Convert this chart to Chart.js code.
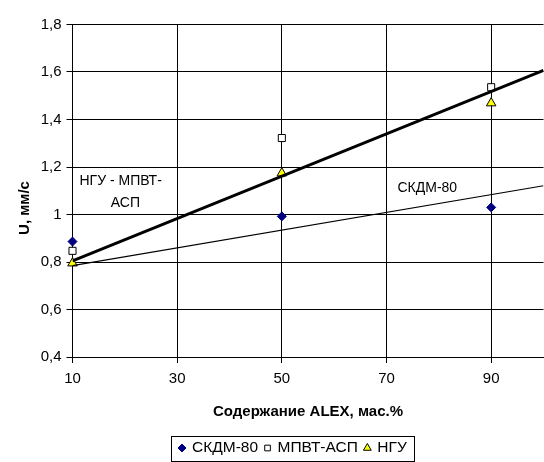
<!DOCTYPE html>
<html>
<head>
<meta charset="utf-8">
<script src="https://cdn.jsdelivr.net/npm/chart.js@4"></script>
<style>
    html, body { margin: 0; padding: 0; background: #fff; overflow: hidden; }
    #wrap { width: 550px; height: 462px; }
</style>
</head>
<body>
<div id="wrap"><canvas id="grafico" width="550" height="462"></canvas></div>
<script>
// --- Dados ---
const xValues = [10, 50, 90];
const skdm80 = [0.886, 0.992, 1.03];
const mpvtAsp = [0.847, 1.322, 1.536];
const ngu = [0.795, 1.174, 1.469];

// linhas de tendência (desenhadas à mão no original)
const trendX = [10, 100];
const trendNguMpvt = [0.805, 1.607];
const trendSkdm = [0.785, 1.121];

const xTicks = [10, 30, 50, 70, 90];
const yTicks = [0.4, 0.6, 0.8, 1.0, 1.2, 1.4, 1.6, 1.8];

const seriesNames = ["СКДМ-80", "МПВТ-АСП", "НГУ"];
const xTitle = "Содержание ALEX, мас.%";
const yTitle = "U, мм/с";

// rótulos dentro do gráfico (posição em unidades dos eixos)
const innerLabels = [
    { text: "НГУ - МПВТ-", x: 19.2, y: 1.142 },
    { text: "АСП", x: 20.1, y: 1.049 },
    { text: "СКДМ-80", x: 77.8, y: 1.112 }
];

const FONT = "'Liberation Sans', Arial, sans-serif";

function pts(xs, ys) {
    return xs.map((x, i) => ({ x: x, y: ys[i] }));
}

// --- Plugin: textos e legenda ---
const extrasPlugin = {
    id: "extras",
    afterDraw(chart) {
        const ctx = chart.ctx;
        const sx = chart.scales.x, sy = chart.scales.y;
        ctx.save();

        // rótulos internos
        ctx.fillStyle = "#000";
        ctx.font = "14px " + FONT;
        ctx.textAlign = "center";
        ctx.textBaseline = "middle";
        innerLabels.forEach(l => {
            ctx.fillText(l.text, sx.getPixelForValue(l.x), sy.getPixelForValue(l.y));
        });

        // título do eixo Y
        ctx.save();
        ctx.translate(25, 208);
        ctx.rotate(-Math.PI / 2);
        ctx.font = "bold 15px " + FONT;
        ctx.fillText(yTitle, 0, 0);
        ctx.restore();

        // legenda
        const boxLeft = 171, boxTop = 436, boxH = 25, cy = 448;
        ctx.font = "15.5px " + FONT;
        ctx.textAlign = "left";
        let x = boxLeft + 11;
        let textEnd = x;
        chart.data.datasets.forEach(ds => {
            if (ds.hideInLegend) return;
            ctx.fillStyle = ds.backgroundColor;
            ctx.strokeStyle = ds.borderColor;
            ctx.lineWidth = 1;
            Chart.helpers.drawPoint(ctx, {
                pointStyle: ds.pointStyle,
                radius: ds.legendRadius,
                borderWidth: 1,
                rotation: 0
            }, x, cy);
            ctx.fillStyle = "#000";
            ctx.fillText(ds.label, x + 10, cy);
            textEnd = x + 10 + ctx.measureText(ds.label).width;
            x = textEnd + 9.5;
        });
        ctx.strokeStyle = "#000";
        ctx.lineWidth = 1;
        ctx.strokeRect(boxLeft + 0.5, boxTop + 0.5, Math.round(textEnd + 7 - boxLeft), boxH);

        ctx.restore();
    }
};

new Chart(document.getElementById("grafico"), {
    type: "line",
    data: {
        datasets: [
            {
                label: seriesNames[0],
                data: pts(xValues, skdm80),
                showLine: false,
                clip: false,
                pointStyle: "rectRot",
                pointRadius: 4.5,
                legendRadius: 4,
                backgroundColor: "#000080",
                borderColor: "#000080",
                pointBorderWidth: 1,
                order: 1
            },
            {
                label: seriesNames[1],
                data: pts(xValues, mpvtAsp),
                showLine: false,
                clip: false,
                pointStyle: "rect",
                pointRadius: 5,
                legendRadius: 4,
                backgroundColor: "#ffffff",
                borderColor: "#000000",
                pointBorderWidth: 1,
                order: 1
            },
            {
                label: seriesNames[2],
                data: pts(xValues, ngu),
                showLine: false,
                clip: false,
                pointStyle: "triangle",
                pointRadius: 5.5,
                legendRadius: 4.5,
                backgroundColor: "#ffff00",
                borderColor: "#000000",
                pointBorderWidth: 1,
                order: 1
            },
            {
                label: "НГУ - МПВТ-АСП",
                data: pts(trendX, trendNguMpvt),
                hideInLegend: true,
                borderColor: "#000",
                borderWidth: 3,
                pointRadius: 0,
                order: 0
            },
            {
                label: "СКДМ-80 тренд",
                data: pts(trendX, trendSkdm),
                hideInLegend: true,
                borderColor: "#000",
                borderWidth: 1.2,
                pointRadius: 0,
                order: 0
            }
        ]
    },
    options: {
        responsive: false,
        animation: false,
        layout: { padding: { top: 24.5, right: 2, bottom: 0, left: 0 } },
        plugins: {
            legend: { display: false },
            tooltip: { enabled: false }
        },
        scales: {
            x: {
                type: "linear",
                min: 10,
                max: 100,
                afterBuildTicks: s => { s.ticks = xTicks.map(v => ({ value: v })); },
                afterFit: s => { s.height = 105; },
                grid: { color: "#000", lineWidth: 1, tickLength: 6 },
                border: { color: "#000", width: 1 },
                ticks: { color: "#000", font: { family: FONT, size: 15 }, padding: 7, maxRotation: 0 },
                title: {
                    display: true,
                    text: xTitle,
                    color: "#000",
                    font: { family: FONT, size: 15, weight: "bold" },
                    padding: { top: 0, bottom: 41 }
                }
            },
            y: {
                type: "linear",
                min: 0.4,
                max: 1.8,
                afterBuildTicks: s => { s.ticks = yTicks.map(v => ({ value: v })); },
                afterFit: s => { s.width = 72.5; },
                grid: { color: "#000", lineWidth: 1, tickLength: 6 },
                border: { color: "#000", width: 1 },
                ticks: {
                    color: "#000",
                    font: { family: FONT, size: 15 },
                    padding: 5,
                    callback: v => String(Math.round(v * 10) / 10).replace(".", ",")
                }
            }
        }
    },
    plugins: [extrasPlugin]
});
</script>
</body>
</html>
